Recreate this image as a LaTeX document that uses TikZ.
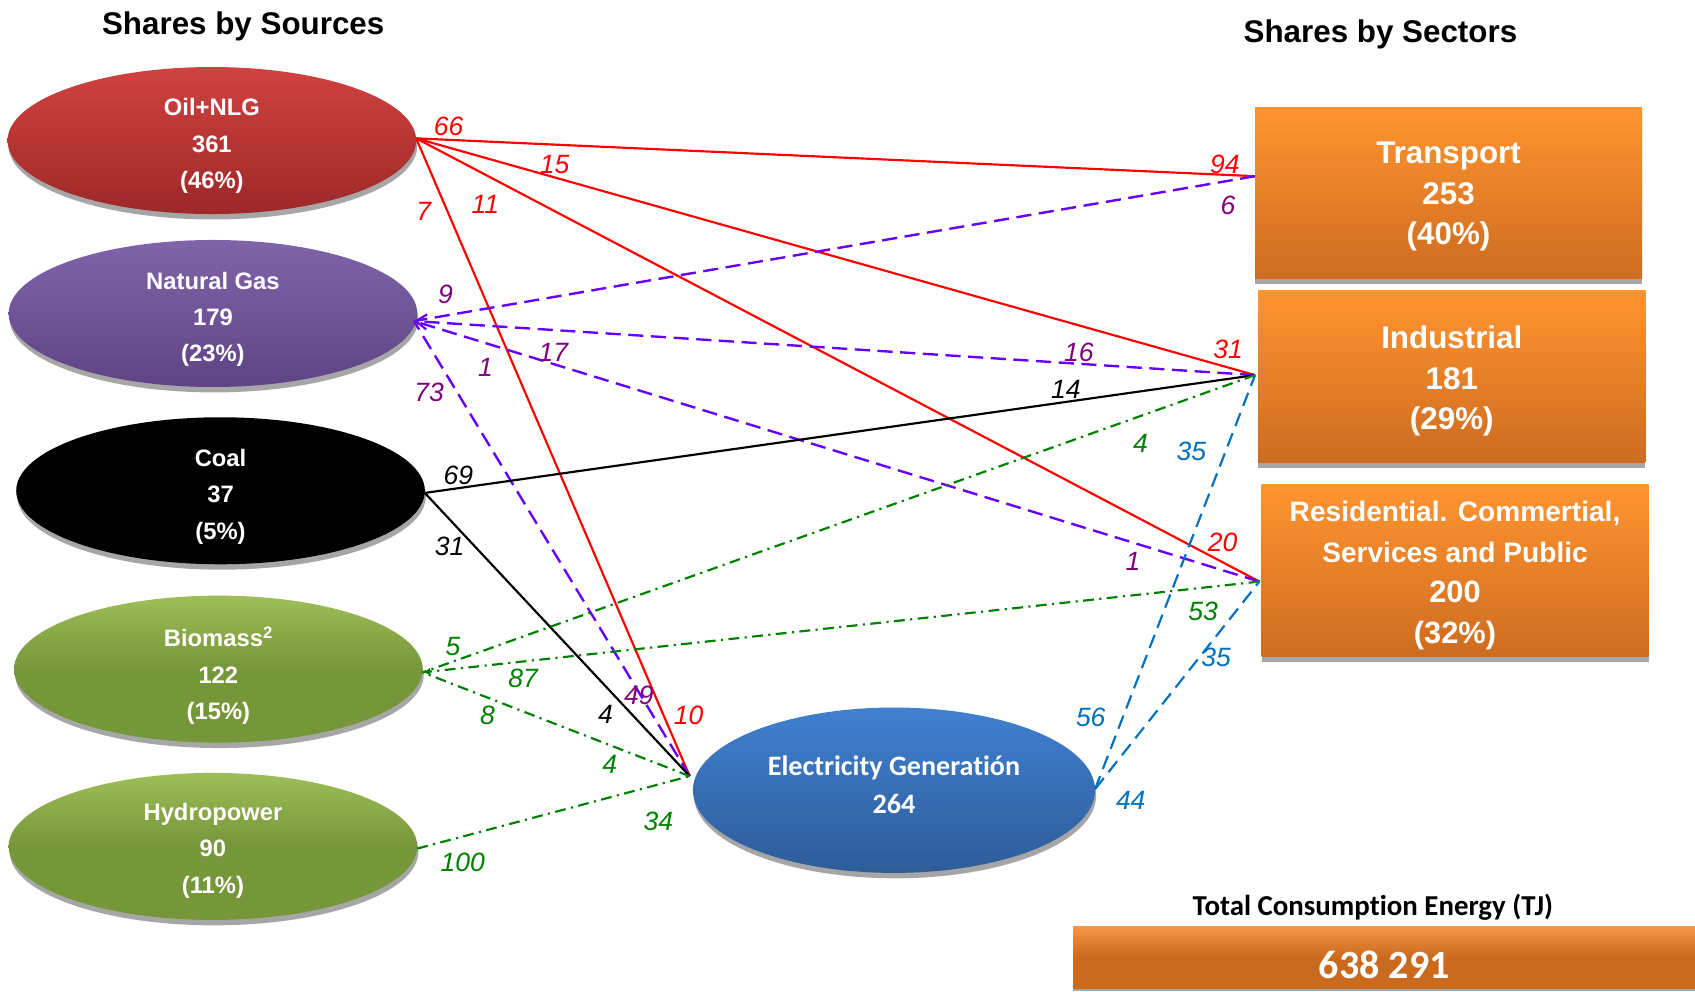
\documentclass[tikz,border=0pt]{standalone}
\usepackage{fontspec}
\setmainfont{Liberation Sans}
\newfontfamily\calibri[Ligatures=NoCommon]{Carlito}
\usetikzlibrary{shapes.geometric,arrows.meta,shadows}
\definecolor{oilTop}{RGB}{208,66,64}
\definecolor{oilBot}{RGB}{158,40,40}
\definecolor{ngTop}{RGB}{128,100,170}
\definecolor{ngBot}{RGB}{94,68,132}
\definecolor{grTop}{RGB}{158,190,88}
\definecolor{grMid}{RGB}{118,150,58}
\definecolor{elTop}{RGB}{64,128,208}
\definecolor{elBot}{RGB}{45,92,152}
\definecolor{orTop}{RGB}{255,148,48}
\definecolor{orBot}{RGB}{205,108,32}
\definecolor{totTop}{RGB}{247,150,70}
\definecolor{totBot}{RGB}{202,106,30}
\definecolor{shgray}{RGB}{166,166,166}
\definecolor{lnRed}{RGB}{255,0,0}
\definecolor{lnPur}{RGB}{102,0,255}
\definecolor{lbPur}{RGB}{128,0,128}
\definecolor{lnGrn}{RGB}{0,128,0}
\definecolor{lnBlu}{RGB}{0,112,192}
\begin{document}
\begin{tikzpicture}[x=1pt,y=-1pt,
  title/.style={font=\fontsize{29}{34}\selectfont\bfseries, inner sep=0pt},
  shad/.style={drop shadow={shadow xshift=1pt, shadow yshift=-5pt, fill=shgray, opacity=1}},
  src/.style={ellipse, shad, minimum width=378pt, minimum height=136pt, inner sep=0pt},
  srctext/.style={text=white, align=center, inner sep=0pt, font=\fontsize{22}{33.5}\selectfont\bfseries},
  sector/.style={rectangle, drop shadow={shadow xshift=0pt, shadow yshift=-5pt, fill=shgray, opacity=1},
    minimum width=358pt, minimum height=159pt, inner sep=0pt, top color=orTop, bottom color=orBot},
  sectext/.style={text=white, align=center, inner sep=0pt, font=\fontsize{29}{37.5}\selectfont\bfseries},
  lbl/.style={font=\fontsize{24.5}{28}\selectfont\itshape, inner sep=0pt},
  redln/.style={draw=lnRed, line width=2pt},
  purln/.style={draw=lnPur, line width=2.2pt, dash pattern=on 14pt off 7pt},
  blkln/.style={draw=black, line width=2pt},
  grnln/.style={draw=lnGrn, line width=2pt, dash pattern=on 10pt off 5pt on 2pt off 5pt},
  bluln/.style={draw=lnBlu, line width=2pt, dash pattern=on 13pt off 7pt},
]
\useasboundingbox (0,0) rectangle (1568,917);
\fill[white] (0,0) rectangle (1568,917);

% titles
\node[title] (tsrc) at (225,24) {Shares by Sources};
\node[title] (tsec) at (1277,32) {Shares by Sectors};

% sources
\node[src, top color=oilTop, bottom color=oilBot] (oil) at (196,130) {};
\node[srctext] (oilT) at (196,135) {Oil+NLG\\361\\(46\%)};
\node[src, top color=ngTop, bottom color=ngBot] (ng) at (197,290) {};
\node[srctext] (ngT) at (197,295.5) {Natural Gas\\179\\(23\%)};
\node[src, fill=black] (coal) at (204,454) {};
\node[srctext] (coalT) at (204,459.5) {Coal\\37\\(5\%)};
\node[src, top color=grTop, bottom color=grMid, middle color=grMid] (bio) at (202,619) {};
\node[srctext] (bioT) at (202,625) {Biomass\textsuperscript{2}\\122\\(15\%)};
\node[src, top color=grTop, bottom color=grMid, middle color=grMid] (hyd) at (197,783) {};
\node[srctext] (hydT) at (197,787) {Hydropower\\90\\(11\%)};

% electricity
\node[ellipse, shad, minimum width=372pt, minimum height=153pt, inner sep=0pt, top color=elTop, bottom color=elBot] (el) at (827,731) {};
\node[text=white, align=center, inner sep=0pt, font=\calibri\fontsize{26}{35}\selectfont\bfseries] (elT) at (827,726) {Electricity Generatión\\264};

% sectors
\node[sector] (tr) at (1340,178.5) {};
\node[sectext] (trT) at (1340,182) {Transport\\253\\(40\%)};
\node[sector] (ind) at (1343,348) {};
\node[sectext] (indT) at (1343,352.5) {Industrial\\181\\(29\%)};
\node[sector] (res) at (1346,527.5) {};
\node[sectext, font=\fontsize{26}{37.5}\selectfont\bfseries] (resT) at (1346,532.5)
  {Residential. Commertial,\\Services and Public\\{\fontsize{28.5}{37.5}\selectfont 200}\\{\fontsize{28.5}{37.5}\selectfont (32\%)}};

% total
\node[font=\calibri\fontsize{26.7}{30}\selectfont\bfseries, inner sep=0pt] (tott) at (1270,839) {Total Consumption Energy (TJ)};
\node[rectangle, drop shadow={shadow xshift=0pt, shadow yshift=-3pt, fill=shgray, opacity=1},
  minimum width=575pt, minimum height=57pt, inner sep=0pt, top color=totTop, bottom color=totBot, middle color=totBot] (tot) at (1280.5,885.5) {};
\node[text=white, inner sep=0pt, font=\calibri\fontsize{37}{40}\selectfont\bfseries] (totT) at (1280.5,893) {638 291};

% connection points
\coordinate (oilR) at (385,128);
\coordinate (ngR) at (383,297);
\coordinate (coalR) at (393,456);
\coordinate (bioR) at (391,622);
\coordinate (hydR) at (386,785);
\coordinate (elL) at (638,718);
\coordinate (elR) at (1013,730);
\coordinate (trL) at (1161,163);
\coordinate (indL) at (1161,347);
\coordinate (resL) at (1165,538);

% oil (red)
\draw[redln] (oilR) -- (trL);
\draw[redln] (oilR) -- (indL);
\draw[redln] (oilR) -- (resL);
\draw[redln] (oilR) -- (elL);
% natural gas (purple dashed)
\draw[purln] (trL) -- (ngR);
\draw[purln, -{Straight Barb[length=10pt,width=14pt,line width=2pt]}] (indL) -- (ngR);
\draw[purln] (resL) -- (ngR);
\draw[purln] (elL) -- (ngR);
% coal
\draw[blkln] (coalR) -- (indL);
\draw[blkln] (coalR) -- (elL);
% biomass (green dash dot)
\draw[grnln] (indL) -- (bioR);
\draw[grnln, -{Latex[length=7pt,width=7pt]}] (resL) -- (bioR);
\draw[grnln] (elL) -- (bioR);
\draw[grnln] (hydR) -- (elL);
% electricity (blue dashed)
\draw[bluln] (elR) -- (indL);
\draw[bluln] (elR) -- (resL);

% labels red
\node[lbl, text=lnRed] (r66) at (415,117) {66};
\node[lbl, text=lnRed] (r94) at (1133,152) {94};
\node[lbl, text=lnRed] (r15) at (513,152) {15};
\node[lbl, text=lnRed] (r31) at (1136,323) {31};
\node[lbl, text=lnRed] (r11) at (449,189) {11};
\node[lbl, text=lnRed] (r20) at (1131,502) {20};
\node[lbl, text=lnRed] (r7) at (392,196) {7};
\node[lbl, text=lnRed] (r10) at (637,662) {10};
% labels purple
\node[lbl, text=lbPur] (p9) at (412,272) {9};
\node[lbl, text=lbPur] (p6) at (1136,190) {6};
\node[lbl, text=lbPur] (p17) at (512,326) {17};
\node[lbl, text=lbPur] (p16) at (998,326) {16};
\node[lbl, text=lbPur] (p1a) at (449,340) {1};
\node[lbl, text=lbPur] (p1b) at (1048,519) {1};
\node[lbl, text=lbPur] (p73) at (397,363) {73};
\node[lbl, text=lbPur] (p49) at (591,643) {49};
% labels black
\node[lbl] (k69) at (424,440) {69};
\node[lbl] (k14) at (986,360) {14};
\node[lbl] (k31) at (416,505) {31};
\node[lbl] (k4) at (560,661) {4};
% labels green
\node[lbl, text=lnGrn] (g5) at (419,598) {5};
\node[lbl, text=lnGrn] (g4a) at (1055,410) {4};
\node[lbl, text=lnGrn] (g87) at (484,628) {87};
\node[lbl, text=lnGrn] (g53) at (1113,566) {53};
\node[lbl, text=lnGrn] (g8) at (451,662) {8};
\node[lbl, text=lnGrn] (g4b) at (564,707) {4};
\node[lbl, text=lnGrn] (g100) at (428,798) {100};
\node[lbl, text=lnGrn] (g34) at (609,760) {34};
% labels blue
\node[lbl, text=lnBlu] (b56) at (1009,664) {56};
\node[lbl, text=lnBlu] (b35a) at (1102,418) {35};
\node[lbl, text=lnBlu] (b44) at (1046,740) {44};
\node[lbl, text=lnBlu] (b35b) at (1125,608) {35};
\end{tikzpicture}
\end{document}
